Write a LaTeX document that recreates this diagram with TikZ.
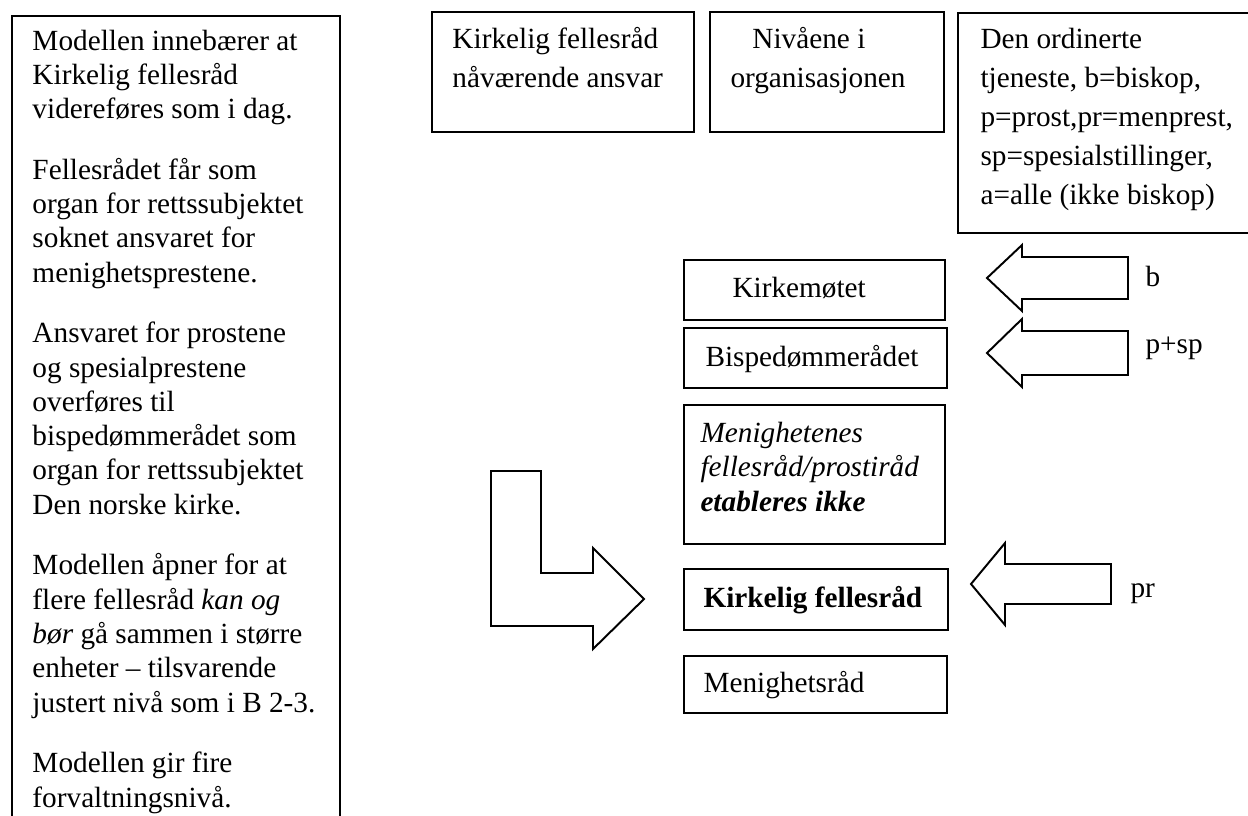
\documentclass[tikz,border=0pt]{standalone}
\usepackage{fontspec}
\setmainfont{Liberation Serif}
\def\px{0.41pt}
\tikzset{
  frame/.style={draw, line width=0.8pt, inner sep=0pt, anchor=north west},
  txt/.style={inner sep=0pt, anchor=base west, align=left, font=\fontsize{12}{14.06}\selectfont},
  toptxt/.style={txt, font=\fontsize{12}{16}\selectfont},
  blockarrow/.style={draw, line width=0.8pt, line join=miter},
}
\begin{document}
\begin{tikzpicture}[x=0.41pt, y=-0.41pt]
  \useasboundingbox (0,0) rectangle (1248,816);
  \clip (0,0) rectangle (1248,816);

  \node[frame, minimum width=328*\px, minimum height=815*\px] (info) at (11,15) {};
  \node[txt] (infotxt) at (32,807) {Modellen innebærer at\\
    Kirkelig fellesråd\\
    videreføres som i dag.\\[10.8pt]
    Fellesrådet får som\\
    organ for rettssubjektet\\
    soknet ansvaret for\\
    menighetsprestene.\\[10.8pt]
    Ansvaret for prostene\\
    og spesialprestene\\
    overføres til\\
    bispedømmerådet som\\
    organ for rettssubjektet\\
    Den norske kirke.\\[10.8pt]
    Modellen åpner for at\\
    flere fellesråd \textit{kan og}\\
    \textit{bør} gå sammen i større\\
    enheter – tilsvarende\\
    justert nivå som i B 2-3.\\[10.8pt]
    Modellen gir fire\\
    forvaltningsnivå.};

  \node[frame, minimum width=262*\px, minimum height=120*\px] (ansvar) at (431,11) {};
  \node[toptxt] (ansvartxt) at (452,88) {Kirkelig fellesråd\\nåværende ansvar};
  \node[frame, minimum width=234*\px, minimum height=120*\px] (nivaa) at (709,11) {};
  \node[toptxt] (nivaatxt) at (730,88) {\hspace*{9pt}Nivåene i\\organisasjonen};
  \node[frame, minimum width=300*\px, minimum height=220*\px] (ordinert) at (957,12) {};
  \node[toptxt] (ordinerttxt) at (980,205) {Den ordinerte\\
    tjeneste, b=biskop,\\
    p=prost,pr=menprest,\\
    sp=spesialstillinger,\\
    a=alle (ikke biskop)};

  \node[frame, minimum width=261*\px, minimum height=60*\px] (kirkemote) at (683,259) {};
  \node[txt] (kirkemotetxt) at (732,298) {Kirkemøtet};
  \node[frame, minimum width=263*\px, minimum height=60*\px] (bisped) at (683,327) {};
  \node[txt] (bispedtxt) at (705,366) {Bispedømmerådet};
  \node[frame, minimum width=261*\px, minimum height=139*\px] (prostirad) at (683,404) {};
  \node[txt] (prostiradtxt) at (700,511) {\textit{Menighetenes}\\
    \textit{fellesråd/prostiråd}\\
    \textbf{\textit{etableres ikke}}};
  \node[frame, minimum width=264*\px, minimum height=61*\px] (kfrad) at (683,568) {};
  \node[txt] (kfradtxt) at (703,607) {\textbf{Kirkelig fellesråd}};
  \node[frame, minimum width=263*\px, minimum height=57*\px] (menrad) at (683,655) {};
  \node[txt] (menradtxt) at (703,692) {Menighetsråd};

  \coordinate (lstart) at (491,471);
  \draw[blockarrow] (lstart) --++(50,0) --++(0,102) --++(52,0) --++(0,-25)
    --++(51,51) --++(-51,50) --++(0,-23) --++(-102,0) -- cycle;

  \coordinate (tipb) at (987,278);
  \draw[blockarrow] (tipb) --++(35,-33) --++(0,12) --++(106,0) --++(0,42)
    --++(-106,0) --++(0,12) -- cycle;
  \coordinate (tipp) at (987,353);
  \draw[blockarrow] (tipp) --++(35,-34) --++(0,12) --++(106,0) --++(0,44)
    --++(-106,0) --++(0,12) -- cycle;
  \coordinate (tippr) at (971,584);
  \draw[blockarrow] (tippr) --++(34,-41) --++(0,21) --++(106,0) --++(0,40)
    --++(-106,0) --++(0,21) -- cycle;

  \node[txt] (blabel) at (1145,287) {b};
  \node[txt] (plabel) at (1145,354) {p+sp};
  \node[txt] (prlabel) at (1130,597) {pr};
\end{tikzpicture}
\end{document}
